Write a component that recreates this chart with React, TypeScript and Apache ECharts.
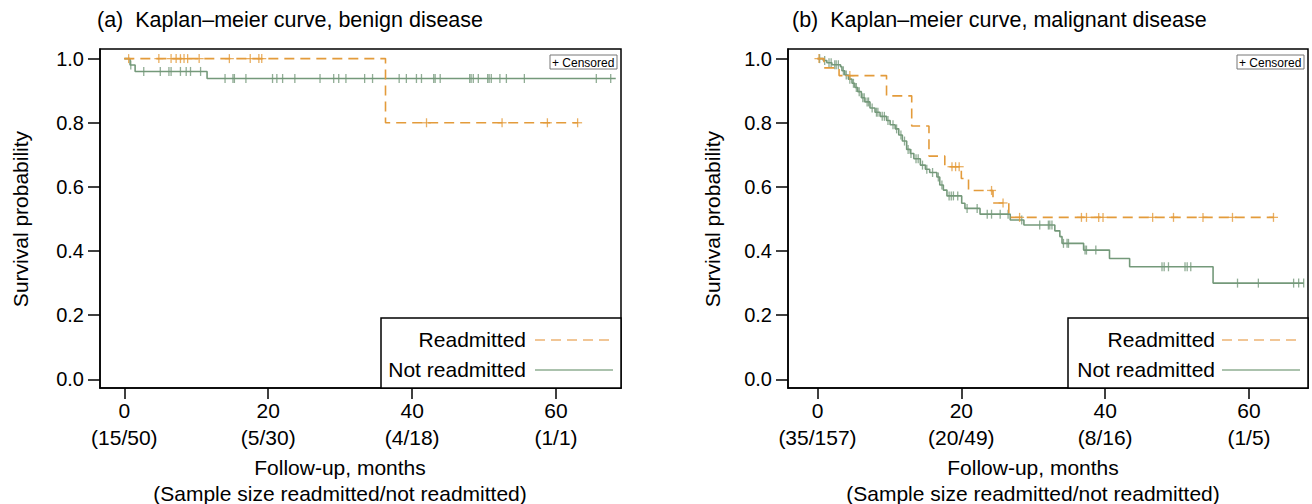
import React, { useEffect, useRef } from "react";
import * as echarts from "echarts";

// ---------- data ----------
const xTicks = [0, 20, 40, 60];
const yTicks = [0, 0.2, 0.4, 0.6, 0.8, 1.0];
const benignAtRisk = ["(15/50)", "(5/30)", "(4/18)", "(1/1)"];
const malignantAtRisk = ["(35/157)", "(20/49)", "(8/16)", "(1/5)"];

const titleA = "(a)  Kaplan\u2013meier curve, benign disease";
const titleB = "(b)  Kaplan\u2013meier curve, malignant disease";
const xTitle1 = "Follow-up, months";
const xTitle2 = "(Sample size readmitted/not readmitted)";
const yTitle = "Survival probability";
const legendNames = ["Readmitted", "Not readmitted"];

// Kaplan–Meier steps: [month, survival after event]
const benignReadmittedSteps = [[0, 1], [36.3, 0.8]];
const benignReadmittedEnd = 63.0;
const benignReadmittedCensored = [0.6, 4.8, 6.5, 7.2, 7.8, 8.3, 8.8, 10.4, 14.6, 17.5, 18.7, 19.1, 42.0, 52.5, 58.8, 63.0];

const benignNotReadmittedSteps = [[0, 1], [0.8, 0.98], [1.5, 0.96], [11.5, 0.938]];
const benignNotReadmittedEnd = 68.3;
const benignNotReadmittedCensored = [0.9, 2.7, 5.0, 6.2, 6.5, 7.8, 8.6, 9.2, 10.6, 14.0, 15.1, 15.3, 16.9, 20.6, 21.2, 22.0, 23.7, 27.2, 29.1, 29.8, 30.8, 33.4, 34.5, 38.2, 39.2, 40.6, 41.3, 43.0, 43.2, 43.9, 48.0, 48.2, 48.5, 49.2, 50.5, 50.7, 51.0, 52.2, 53.1, 55.6, 65.6, 67.6];

const malignantReadmittedSteps = [[0, 1], [0.9, 0.971], [3.0, 0.947], [9.6, 0.884], [13.1, 0.79], [15.5, 0.696], [17.7, 0.663], [20.0, 0.626], [21.0, 0.589], [24.4, 0.55], [26.6, 0.505]];
const malignantReadmittedEnd = 63.4;
const malignantReadmittedCensored = [0.2, 4.5, 18.7, 19.2, 19.7, 24.2, 25.8, 28.1, 36.7, 37.4, 39.1, 39.7, 46.6, 49.5, 53.6, 57.7, 63.4];

const malignantNotReadmittedSteps = [[0, 1], [0.8, 0.994], [1.3, 0.987], [2.0, 0.981], [3.2, 0.975], [3.4, 0.962], [3.8, 0.949], [4.3, 0.936], [4.8, 0.923], [5.2, 0.91], [5.6, 0.897], [6.1, 0.878], [6.6, 0.865], [7.3, 0.846], [8.0, 0.833], [8.7, 0.82], [9.6, 0.807], [10.1, 0.794], [10.8, 0.781], [11.3, 0.762], [11.8, 0.743], [12.4, 0.717], [12.9, 0.704], [13.4, 0.688], [14.3, 0.668], [15.0, 0.655], [15.6, 0.645], [16.6, 0.631], [17.0, 0.606], [17.5, 0.59], [18.0, 0.572], [20.05, 0.549], [20.5, 0.533], [22.6, 0.515], [26.8, 0.497], [28.7, 0.481], [33.0, 0.463], [33.7, 0.445], [34.0, 0.424], [37.0, 0.403], [40.6, 0.377], [43.4, 0.351], [55.0, 0.30]];
const malignantNotReadmittedEnd = 67.6;
const malignantNotReadmittedCensored = [0.3, 1.0, 1.6, 1.9, 2.4, 2.6, 2.9, 3.6, 4.0, 4.5, 5.0, 5.4, 5.8, 6.3, 6.5, 6.9, 7.1, 7.6, 8.2, 8.4, 9.0, 9.3, 9.8, 10.5, 11.0, 11.6, 12.1, 12.6, 13.0, 13.7, 14.0, 14.6, 15.2, 16.0, 16.8, 17.3, 18.3, 18.6, 18.9, 19.5, 20.8, 22.2, 23.6, 24.2, 25.4, 26.5, 28.4, 30.9, 32.1, 32.3, 32.6, 34.2, 34.7, 34.9, 37.2, 37.4, 38.7, 47.9, 48.2, 48.8, 51.1, 51.4, 51.9, 58.4, 61.3, 66.2, 66.9, 67.6];

// ---------- styling ----------
const ORANGE = "#E39B3B";
const GREEN = "#74997A";
const FONT = "'Liberation Sans', Arial, Helvetica, sans-serif";

function survAt(steps: number[][], t: number) {
  let v = steps[0][1];
  for (const [s, val] of steps) if (s <= t) v = val;
  return v;
}
function lineData(steps: number[][], end: number) {
  return [...steps, [end, steps[steps.length - 1][1]]];
}
function censorData(steps: number[][], times: number[]) {
  return times.map((t) => [t, survAt(steps, t)]);
}

export default function App() {
  const ref = useRef<HTMLDivElement>(null);
  useEffect(() => {
    if (!ref.current) return;
    const chart = echarts.init(ref.current, undefined, { renderer: "svg" });

    const grids = [
      { left: 100, top: 49, width: 521, height: 339 },
      { left: 788, top: 49, width: 520, height: 339 },
    ];
    const xRanges = [
      [-3.38, 69.03],
      [-4.1, 68.2],
    ];
    const atRisk = [benignAtRisk, malignantAtRisk];

    const xAxis = grids.map((_, i) => ({
      type: "value",
      gridIndex: i,
      min: xRanges[i][0],
      max: xRanges[i][1],
      splitLine: { show: false },
      axisLine: { show: true, onZero: false, lineStyle: { color: "#000", width: 1.5 } },
      axisTick: { show: true, customValues: xTicks, length: 11, lineStyle: { color: "#000", width: 1.5 } },
      axisLabel: {
        customValues: xTicks,
        margin: 9,
        fontSize: 21,
        lineHeight: 27,
        color: "#000",
        fontFamily: FONT,
        formatter: (v: number) => `${v}\n${atRisk[i][xTicks.indexOf(Math.round(v))]}`,
      },
    }));
    const yAxis = grids.map((_, i) => ({
      type: "value",
      gridIndex: i,
      min: -0.027,
      max: 1.03,
      splitLine: { show: false },
      axisLine: { show: true, onZero: false, lineStyle: { color: "#000", width: 1.5 } },
      axisTick: { show: true, customValues: yTicks, length: 12, lineStyle: { color: "#000", width: 1.5 } },
      axisLabel: {
        customValues: yTicks,
        margin: 16,
        fontSize: 20,
        color: "#000",
        fontFamily: FONT,
        formatter: (v: number) => v.toFixed(1),
      },
    }));

    const panels = [
      {
        rs: benignReadmittedSteps, re: benignReadmittedEnd, rc: benignReadmittedCensored,
        ns: benignNotReadmittedSteps, ne: benignNotReadmittedEnd, nc: benignNotReadmittedCensored,
      },
      {
        rs: malignantReadmittedSteps, re: malignantReadmittedEnd, rc: malignantReadmittedCensored,
        ns: malignantNotReadmittedSteps, ne: malignantNotReadmittedEnd, nc: malignantNotReadmittedCensored,
      },
    ];
    const series: any[] = [];
    panels.forEach((p, i) => {
      series.push({
        type: "line", xAxisIndex: i, yAxisIndex: i, step: "end", showSymbol: false,
        data: lineData(p.ns, p.ne), lineStyle: { color: GREEN, width: 1.6 }, z: 2,
      });
      series.push({
        type: "scatter", xAxisIndex: i, yAxisIndex: i, symbol: "rect", symbolSize: [1.3, 9],
        data: censorData(p.ns, p.nc), itemStyle: { color: GREEN }, z: 2,
      });
      series.push({
        type: "line", xAxisIndex: i, yAxisIndex: i, step: "end", showSymbol: false,
        data: lineData(p.rs, p.re), lineStyle: { color: ORANGE, width: 1.6, type: [10, 6] }, z: 3,
      });
      series.push({
        type: "scatter", xAxisIndex: i, yAxisIndex: i, symbol: "rect", symbolSize: [1.3, 9],
        data: censorData(p.rs, p.rc), itemStyle: { color: ORANGE }, z: 3,
      });
      series.push({
        type: "scatter", xAxisIndex: i, yAxisIndex: i, symbol: "rect", symbolSize: [9, 1.3],
        data: censorData(p.rs, p.rc), itemStyle: { color: ORANGE }, z: 3,
      });
    });

    const graphic: any[] = [];
    const legendBoxes = [
      { x: 381, y: 318, w: 240, textX: 526, lx1: 535, lx2: 613 },
      { x: 1068, y: 318, w: 240, textX: 1215, lx1: 1222, lx2: 1300 },
    ];
    legendBoxes.forEach((b) => {
      graphic.push({
        type: "rect", z: 10, shape: { x: b.x, y: b.y, width: b.w, height: 388 - b.y },
        style: { fill: "#fff", stroke: "#000", lineWidth: 1.5 },
      });
      graphic.push({
        type: "text", z: 11, x: b.textX, y: 339,
        style: { text: legendNames[0], fontSize: 21, fontFamily: FONT, fill: "#000", align: "right", verticalAlign: "middle" },
      });
      graphic.push({
        type: "text", z: 11, x: b.textX, y: 369,
        style: { text: legendNames[1], fontSize: 21, fontFamily: FONT, fill: "#000", align: "right", verticalAlign: "middle" },
      });
      graphic.push({
        type: "line", z: 11, shape: { x1: b.lx1, y1: 340, x2: b.lx2, y2: 340 },
        style: { stroke: "#EDB474", lineWidth: 1.6, lineDash: [10, 6] },
      });
      graphic.push({
        type: "line", z: 11, shape: { x1: b.lx1, y1: 370, x2: b.lx2, y2: 370 },
        style: { stroke: "#8FAE92", lineWidth: 1.6 },
      });
    });
    const censBoxes = [550, 1237];
    censBoxes.forEach((cx) => {
      graphic.push({
        type: "rect", z: 10, shape: { x: cx, y: 55, width: 67, height: 14 },
        style: { fill: "#fff", stroke: "#777", lineWidth: 1 },
      });
      graphic.push({
        type: "text", z: 11, x: cx + 2, y: 62.5,
        style: { text: "+ Censored", fontSize: 12, fontFamily: FONT, fill: "#000", verticalAlign: "middle" },
      });
    });
    const yTitleX = [20, 712];
    yTitleX.forEach((x) => {
      graphic.push({
        type: "text", x, y: 219, rotation: Math.PI / 2,
        style: { text: yTitle, fontSize: 21, fontFamily: FONT, fill: "#000", align: "center", verticalAlign: "middle" },
      });
    });
    const xTitleX = [340, 1033];
    xTitleX.forEach((x) => {
      graphic.push({
        type: "text", x, y: 467,
        style: { text: xTitle1, fontSize: 21, fontFamily: FONT, fill: "#000", align: "center", verticalAlign: "middle" },
      });
      graphic.push({
        type: "text", x, y: 493,
        style: { text: xTitle2, fontSize: 21, fontFamily: FONT, fill: "#000", align: "center", verticalAlign: "middle" },
      });
    });

    chart.setOption({
      animation: false,
      textStyle: { fontFamily: FONT },
      title: [
        { text: titleA, left: 97, top: 9, padding: 0, textStyle: { fontSize: 21.5, fontWeight: "normal", color: "#000", fontFamily: FONT } },
        { text: titleB, left: 792, top: 9, padding: 0, textStyle: { fontSize: 21.5, fontWeight: "normal", color: "#000", fontFamily: FONT } },
      ],
      grid: grids.map((g) => ({ ...g, show: true, borderColor: "#000", borderWidth: 1.5, backgroundColor: "transparent" })),
      xAxis,
      yAxis,
      series,
      graphic,
    });
    return () => chart.dispose();
  }, []);
  return <div ref={ref} style={{ position: "absolute", left: 0, top: 0, width: 1312, height: 504, background: "#fff" }} />;
}
